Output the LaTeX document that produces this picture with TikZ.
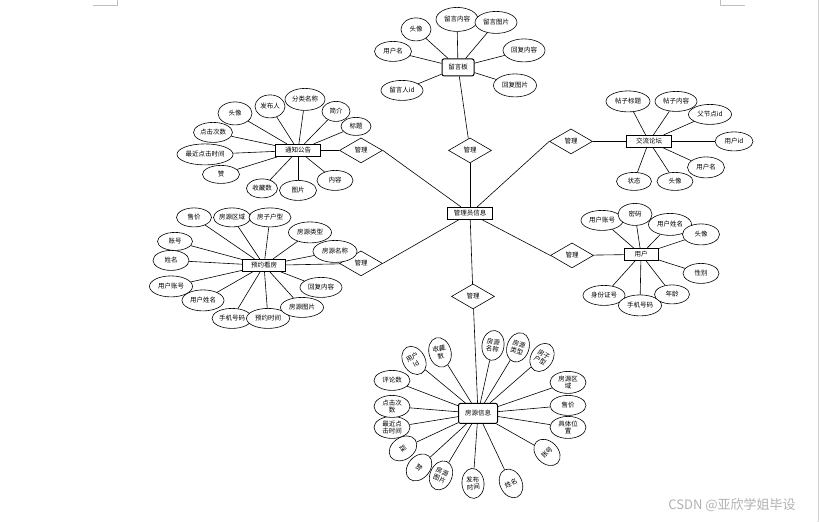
\documentclass[tikz,border=0pt]{standalone}
\usepackage{fontspec}
\setmainfont{Noto Sans CJK SC}
\usetikzlibrary{shapes.geometric}

\begin{document}
\begin{tikzpicture}[
x=1pt,y=-1pt,
font=\fontsize{6.5}{7.5}\selectfont,
entity/.style={rectangle,draw,fill=white,line width=1pt,minimum width=#1,minimum height=12pt,inner sep=1pt},
entity/.default=45pt,
attr/.style={ellipse,draw,fill=white,line width=0.6pt,minimum width=#1,minimum height=20pt,inner sep=0pt,align=center},
attr/.default=40pt,
tallattr/.style={ellipse,draw,fill=white,line width=0.6pt,minimum width=22pt,minimum height=30pt,inner sep=0pt,align=center,rotate=#1},
rel/.style={diamond,draw,fill=white,line width=0.6pt,minimum width=43pt,minimum height=25pt,inner sep=0pt},
link/.style={line width=0.6pt},
pagemark/.style={draw=gray!50,line width=0.8pt}
]
\fill[white] (0,0) rectangle (819,522);

% centre and relations
\node[entity] (admin) at (470,213) {管理员信息};
\node[rel] (mTop) at (470,150) {管理};
\node[rel] (mUL) at (361,150) {管理};
\node[rel] (mLL) at (361,263) {管理};
\node[rel] (mBot) at (473,296) {管理};
\node[rel] (mUR) at (571,141) {管理};
\node[rel] (mLR) at (572,255) {管理};

% message board
\node[entity=32pt,rounded corners=2pt,minimum height=17pt] (board) at (458,67) {留言板};
\node[attr=30pt,minimum height=23pt] (board1) at (416,29) {头像};
\node[attr=42pt,minimum height=24pt] (board2) at (457,19) {留言内容};
\node[attr=42pt,minimum height=22pt] (board3) at (496,22) {留言图片};
\node[attr=37pt] (board4) at (393,51) {用户名};
\node[attr=42pt,minimum height=23pt] (board5) at (524,50) {回复内容};
\node[attr=43pt,minimum height=23pt] (board6) at (515,85) {回复图片};
\node[attr=42pt] (board7) at (402,90) {留言人id};

% notices
\node[entity] (notice) at (298,150) {通知公告};
\node[attr=34pt,minimum height=23pt] (notice1) at (235,113) {头像};
\node[attr=30pt,minimum height=23pt] (notice2) at (270,106) {发布人};
\node[attr=40pt,minimum height=22pt] (notice3) at (305,99) {分类名称};
\node[attr=28pt] (notice4) at (336,111) {简介};
\node[attr=30pt,minimum height=18pt] (notice5) at (356,126) {标题};
\node[attr=39pt] (notice6) at (213,132) {点击次数};
\node[attr=56pt,minimum height=21pt] (notice7) at (205,154) {最近点击时间};
\node[attr=37pt,minimum height=18pt] (notice8) at (221,174) {赞};
\node[attr=31pt,minimum height=19pt] (notice9) at (262,188) {收藏数};
\node[attr=37pt] (notice10) at (298,190) {图片};
\node[attr=36pt] (notice11) at (335,180) {内容};

% forum
\node[entity] (forum) at (649,141) {交流论坛};
\node[attr=44pt,minimum height=21pt] (forum1) at (628,101) {帖子标题};
\node[attr=42pt] (forum2) at (676,101) {帖子内容};
\node[attr=43pt] (forum3) at (710,114) {父节点id};
\node[attr=38pt,minimum height=19pt] (forum4) at (734,141) {用户id};
\node[attr=37pt,minimum height=21pt] (forum5) at (706,167) {用户名};
\node[attr=35pt,minimum height=18pt] (forum6) at (634,181) {状态};
\node[attr=36pt,minimum height=18pt] (forum7) at (675,181) {头像};

% booking
\node[entity=43pt] (booking) at (264,265) {预约看房};
\node[attr=35pt,minimum height=19pt] (booking1) at (194,217) {售价};
\node[attr=37pt,minimum height=19pt] (booking2) at (232,217) {房源区域};
\node[attr=42pt,minimum height=19pt] (booking3) at (270,217) {房子户型};
\node[attr=43pt,minimum height=21pt] (booking4) at (310,232) {房源类型};
\node[attr=44pt,minimum height=22pt] (booking5) at (335,251) {房源名称};
\node[attr=35pt,minimum height=18pt] (booking6) at (175,241) {账号};
\node[attr=36pt] (booking7) at (171,260) {姓名};
\node[attr=43pt,minimum height=21pt] (booking8) at (171,286) {用户账号};
\node[attr=42pt,minimum height=21pt] (booking9) at (203,300) {用户姓名};
\node[attr=40pt] (booking10) at (232,318) {手机号码};
\node[attr=43pt] (booking11) at (268,318) {预约时间};
\node[attr=43pt] (booking12) at (302,307) {房源图片};
\node[attr=42pt] (booking13) at (321,287) {回复内容};

% user
\node[entity=34pt] (user) at (641,254) {用户};
\node[attr=42pt] (user1) at (602,220) {用户账号};
\node[attr=34pt,minimum height=22pt] (user2) at (635,214) {密码};
\node[attr=43pt,minimum height=22pt] (user3) at (670,224) {用户姓名};
\node[attr=37pt,minimum height=21pt] (user4) at (701,234) {头像};
\node[attr=36pt] (user5) at (701,273) {性别};
\node[attr=42pt] (user6) at (604,295) {身份证号};
\node[attr=43pt,minimum height=21pt] (user7) at (640,305) {手机号码};
\node[attr=35pt,minimum height=19pt] (user8) at (672,294) {年龄};

% house info
\node[entity=39pt,rounded corners=2pt,minimum height=20pt] (house) at (478,413) {房源信息};
\node[tallattr=30] (house1) at (414,360) {用户\\Id};
\node[tallattr=15] (house2) at (440,352) {收藏\\数};
\node[tallattr=-8] (house3) at (493,345) {房源\\名称};
\node[tallattr=-18] (house4) at (518,347) {房源\\类型};
\node[tallattr=-30] (house5) at (542,357) {房子\\户型};
\node[attr=36pt,minimum height=22pt] (house6) at (568,382) {房源区\\域};
\node[attr=36pt] (house7) at (568,405) {售价};
\node[attr=36pt,minimum height=22pt] (house8) at (568,427) {具体位\\置};
\node[tallattr=45] (house9) at (547,452) {账号};
\node[tallattr=25] (house10) at (511,483) {姓名};
\node[tallattr=5] (house11) at (473,483) {发布\\时间};
\node[tallattr=-22] (house12) at (441,475) {房源\\图片};
\node[tallattr=-40] (house13) at (419,467) {赞};
\node[tallattr=-55] (house14) at (403,448) {踩};
\node[attr=36pt,minimum height=22pt] (house15) at (392,427) {最近点\\击时间};
\node[attr=36pt,minimum height=22pt] (house16) at (392,406) {点击次\\数};
\node[attr=36pt] (house17) at (392,380) {评论数};

% connectors
\draw[link] (admin) -- (mTop); \draw[link] (mTop) -- (board);
\draw[link] (admin) -- (mUL.east); \draw[link] (mUL) -- (notice);
\draw[link] (admin) -- (mLL.east); \draw[link] (mLL) -- (booking);
\draw[link] (admin) -- (mBot); \draw[link] (mBot) -- (house);
\draw[link] (admin) -- (mUR.west); \draw[link] (mUR) -- (forum);
\draw[link] (admin) -- (mLR.west); \draw[link] (mLR) -- (user);
\foreach \i in {1,...,7} \draw[link] (board) -- (board\i);
\foreach \i in {1,...,11} \draw[link] (notice) -- (notice\i);
\foreach \i in {1,...,7} \draw[link] (forum) -- (forum\i);
\foreach \i in {1,...,13} \draw[link] (booking) -- (booking\i);
\foreach \i in {1,...,8} \draw[link] (user) -- (user\i);
\foreach \i in {1,...,17} \draw[link] (house) -- (house\i);

% page marks and watermark
\draw[pagemark] (93,5) -- (117,5) -- (117,0);
\draw[pagemark] (720,0) -- (720,5) -- (745,5);
\draw[draw=gray!35,line width=0.8pt] (818,0) -- (818,522);
\node[text=gray!60,font=\fontsize{13}{15}\selectfont] (mark) at (732,505) {CSDN @亚欣学姐毕设};
\end{tikzpicture}
\end{document}
